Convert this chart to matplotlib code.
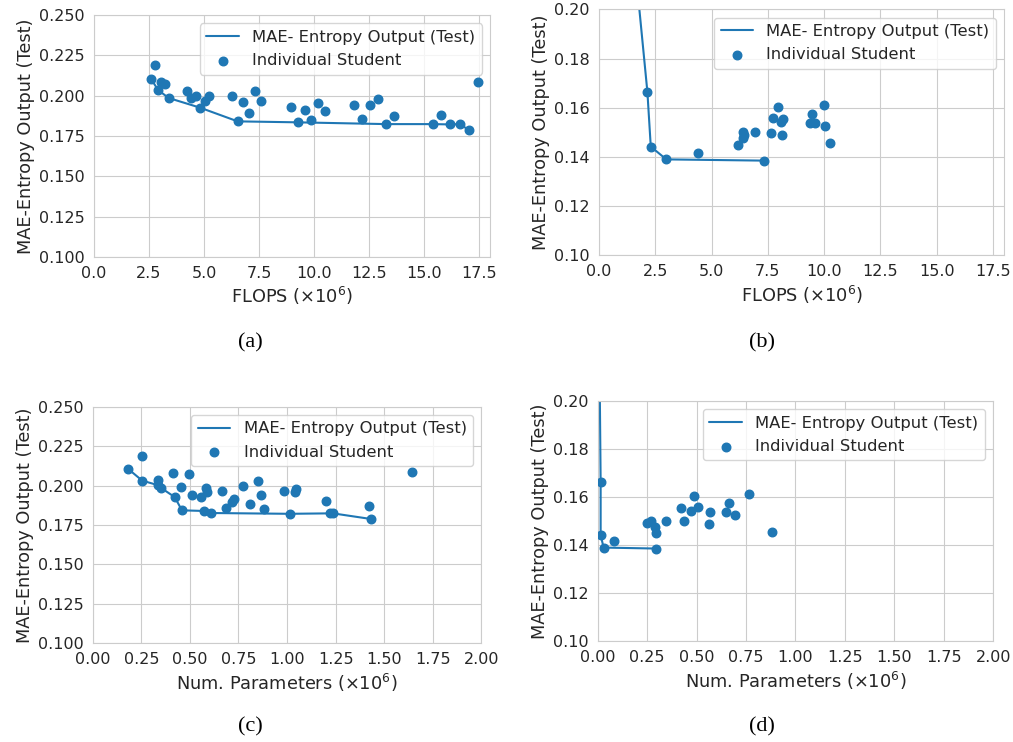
import numpy as np
import matplotlib
matplotlib.use('Agg')
import matplotlib.pyplot as plt
import seaborn as sns

sns.set_style('whitegrid')
plt.rcParams['font.family'] = ['DejaVu Sans']

# (a) FLOPS vs MAE, all students
flops_a = [2.59, 2.76, 2.91, 3.03, 3.24, 3.39, 4.21, 4.39, 4.62, 4.82, 5.05, 5.24,
           6.27, 6.53, 6.77, 7.05, 7.30, 7.58, 8.95, 9.26, 9.58, 9.88, 10.20, 10.51,
           11.83, 12.19, 12.55, 12.92, 13.29, 13.65, 15.41, 15.79, 16.20, 16.62, 17.05, 17.47]
mae_a = [0.2105, 0.2190, 0.2036, 0.2084, 0.2074, 0.1986, 0.2032, 0.1986, 0.1997, 0.1926,
         0.1968, 0.1999, 0.1999, 0.1841, 0.1961, 0.1893, 0.2028, 0.1968, 0.1928, 0.1835,
         0.1911, 0.1851, 0.1957, 0.1905, 0.1943, 0.1855, 0.1943, 0.1978, 0.1824, 0.1874,
         0.1824, 0.1883, 0.1822, 0.1824, 0.1787, 0.2086]
front_flops_a = [2.59, 2.91, 3.39, 4.82, 6.53, 9.26, 13.29, 15.41, 16.20, 16.62, 17.05]
front_mae_a = [0.2105, 0.2036, 0.1986, 0.1926, 0.1841, 0.1835, 0.1824, 0.1824, 0.1822, 0.1824, 0.1787]

# (b) FLOPS vs MAE, second set
flops_b = [2.15, 2.30, 2.99, 4.40, 6.16, 6.39, 6.41, 6.46, 6.95, 7.32, 7.64,
           7.75, 7.96, 8.09, 8.16, 8.13, 9.38, 9.48, 9.60, 10.00, 10.04, 10.24]
mae_b = [0.1664, 0.1442, 0.1390, 0.1416, 0.1450, 0.1476, 0.1503, 0.1491, 0.1500, 0.1385, 0.1499,
         0.1559, 0.1605, 0.1540, 0.1555, 0.1490, 0.1537, 0.1574, 0.1537, 0.1613, 0.1527, 0.1457]
front_flops_b = [1.40, 2.15, 2.30, 2.99, 7.32]
front_mae_b = [0.237, 0.1664, 0.1442, 0.1390, 0.1385]

# (c) parameters vs MAE, all students
params_c = [0.183, 0.255, 0.255, 0.334, 0.338, 0.353, 0.415, 0.422, 0.453, 0.459, 0.495,
            0.511, 0.557, 0.571, 0.583, 0.586, 0.607, 0.664, 0.686, 0.715, 0.727, 0.775,
            0.809, 0.850, 0.866, 0.880, 0.986, 1.013, 1.041, 1.047, 1.202, 1.219, 1.235,
            1.421, 1.432, 1.644]
mae_c = [0.2105, 0.2189, 0.2031, 0.2037, 0.2002, 0.1984, 0.2080, 0.1927, 0.1993, 0.1843, 0.2073,
         0.1942, 0.1925, 0.1839, 0.1984, 0.1961, 0.1826, 0.1965, 0.1856, 0.1894, 0.1913, 0.1997,
         0.1881, 0.2029, 0.1942, 0.1851, 0.1967, 0.1821, 0.1957, 0.1978, 0.1904, 0.1824, 0.1824,
         0.1872, 0.1788, 0.2086]
front_params_c = [0.183, 0.255, 0.338, 0.353, 0.422, 0.459, 0.571, 0.607, 1.013, 1.235, 1.432]
front_mae_c = [0.2105, 0.2031, 0.2002, 0.1984, 0.1927, 0.1843, 0.1839, 0.1826, 0.1821, 0.1824, 0.1788]

# (d) parameters vs MAE, second set
params_d = [0.015, 0.015, 0.030, 0.082, 0.251, 0.268, 0.288, 0.295, 0.295, 0.345, 0.423,
            0.438, 0.473, 0.488, 0.509, 0.568, 0.564, 0.647, 0.666, 0.694, 0.765, 0.880]
mae_d = [0.1664, 0.1442, 0.1390, 0.1417, 0.1493, 0.1501, 0.1476, 0.1449, 0.1386, 0.1501, 0.1556,
         0.1500, 0.1543, 0.1604, 0.1558, 0.1539, 0.1490, 0.1537, 0.1574, 0.1526, 0.1612, 0.1455]
front_params_d = [0.007, 0.015, 0.015, 0.030, 0.295]
front_mae_d = [0.237, 0.1664, 0.1442, 0.1390, 0.1386]

blue = '#1f77b4'
fs_tick = 11.5
fs_label = 12.8
fs_legend = 11.8

fig = plt.figure(figsize=(10.13, 7.42), dpi=100)
rects = [
    [0.0928, 0.6536, 0.3909, 0.3261],
    [0.5913, 0.6559, 0.4001, 0.3315],
    [0.0915, 0.1330, 0.3838, 0.3189],
    [0.5900, 0.1357, 0.3905, 0.3239],
]
panels = [
    (flops_a, mae_a, front_flops_a, front_mae_a, 'FLOPS ($\\times10^6$)', (0, 18), (0.1, 0.25),
     np.arange(0, 17.6, 2.5), np.arange(0.1, 0.2501, 0.025), '{:.1f}', '{:.3f}'),
    (flops_b, mae_b, front_flops_b, front_mae_b, 'FLOPS ($\\times10^6$)', (0, 18), (0.1, 0.2),
     np.arange(0, 17.6, 2.5), np.arange(0.1, 0.2001, 0.02), '{:.1f}', '{:.2f}'),
    (params_c, mae_c, front_params_c, front_mae_c, 'Num. Parameters ($\\times10^6$)', (0, 2), (0.1, 0.25),
     np.arange(0, 2.01, 0.25), np.arange(0.1, 0.2501, 0.025), '{:.2f}', '{:.3f}'),
    (params_d, mae_d, front_params_d, front_mae_d, 'Num. Parameters ($\\times10^6$)', (0, 2), (0.1, 0.2),
     np.arange(0, 2.01, 0.25), np.arange(0.1, 0.2001, 0.02), '{:.2f}', '{:.2f}'),
]

for rect, (x, y, fx, fy, xlab, xlim, ylim, xt, yt, xf, yf) in zip(rects, panels):
    ax = fig.add_axes(rect)
    ax.plot(fx, fy, color=blue, lw=1.5, label='MAE- Entropy Output (Test)')
    ax.scatter(x, y, color=blue, s=38, zorder=3, label='Individual Student')
    ax.set_xlim(*xlim)
    ax.set_ylim(*ylim)
    ax.set_xticks(xt)
    ax.set_xticklabels([xf.format(v) for v in xt])
    ax.set_yticks(yt)
    ax.set_yticklabels([yf.format(v) for v in yt])
    ax.tick_params(labelsize=fs_tick, colors='#262626', pad=3)
    ax.set_xlabel(xlab, fontsize=fs_label, color='#262626', labelpad=3)
    ax.set_ylabel('MAE-Entropy Output (Test)', fontsize=fs_label, color='#262626', labelpad=3)
    ax.legend(loc='upper right', fontsize=fs_legend, frameon=True)

for label, xpos, ypos in [('(a)', 0.2468, 0.5377), ('(b)', 0.7522, 0.5377),
                          ('(c)', 0.2468, 0.0202), ('(d)', 0.7522, 0.0202)]:
    fig.text(xpos, ypos, label, ha='center', va='center', fontsize=16,
             family='Liberation Serif', color='black')

fig.savefig('out.png', dpi=100)
